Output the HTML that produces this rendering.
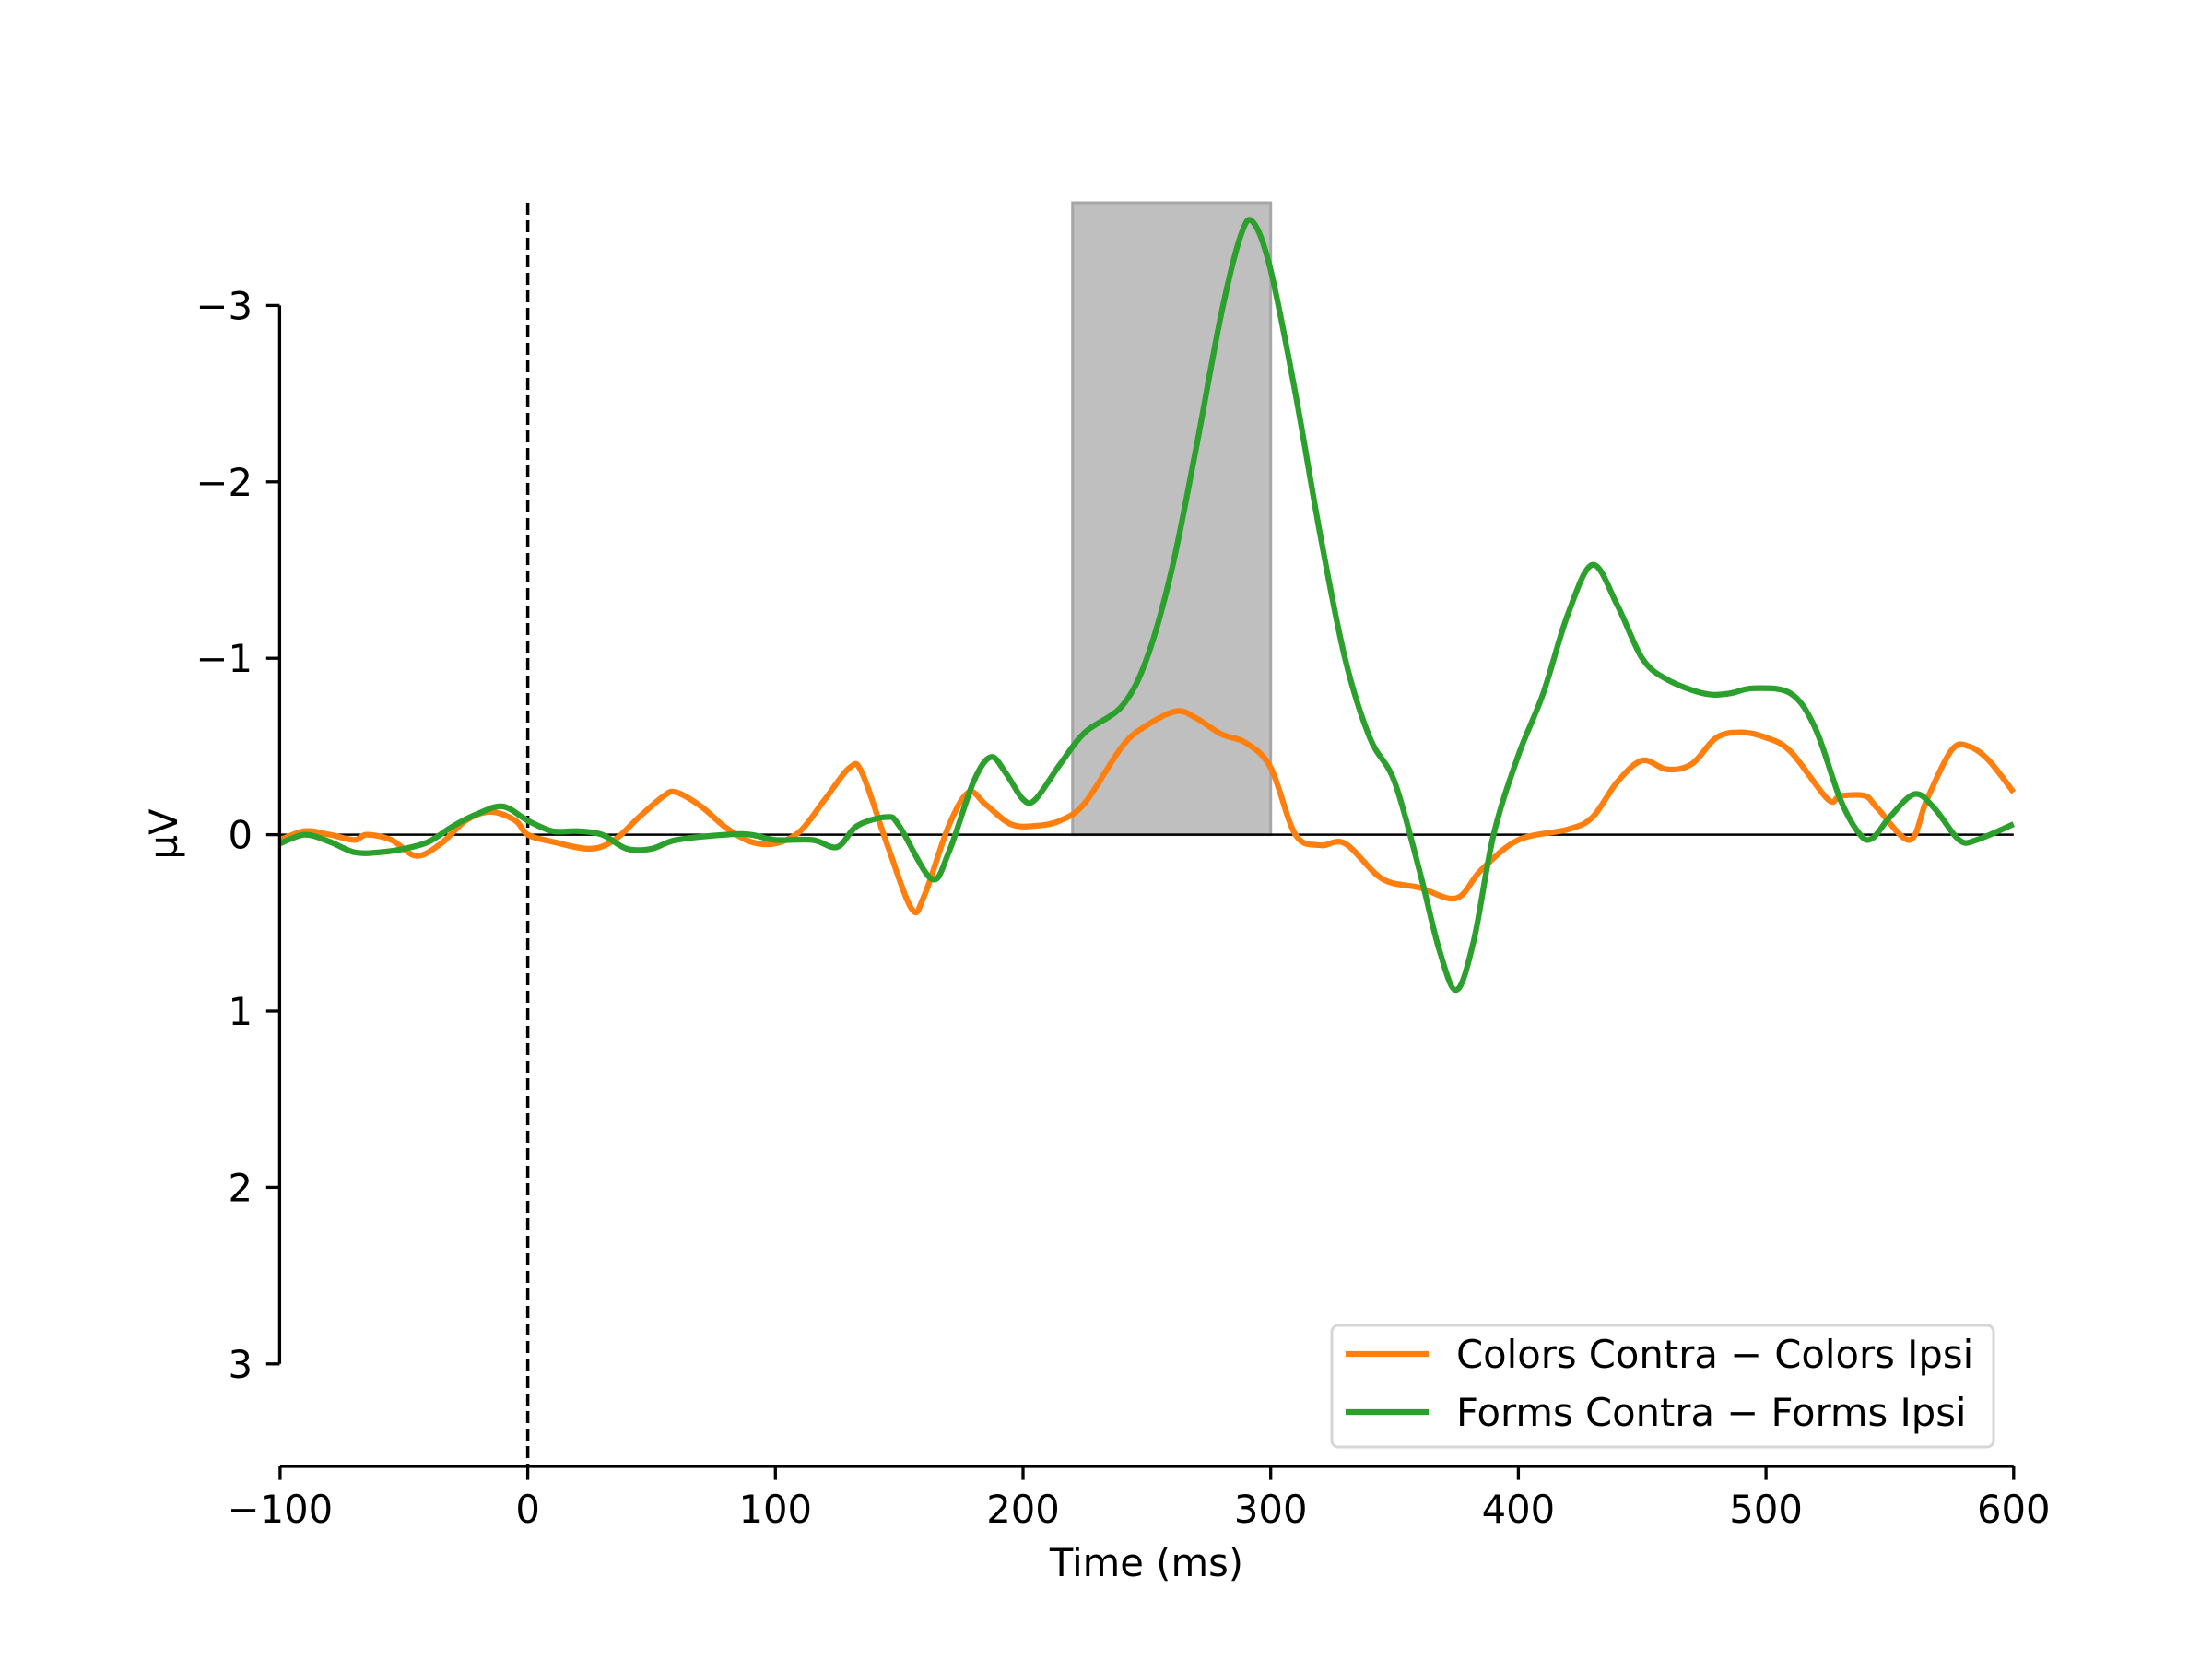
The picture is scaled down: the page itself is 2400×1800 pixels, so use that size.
<!DOCTYPE html>
<html><head><meta charset="utf-8"><style>
html,body{margin:0;padding:0;background:#fff;}
svg{display:block;font-family:"DejaVu Sans","Liberation Sans",sans-serif;}
</style></head><body>
<svg id="chart" width="2400" height="1800" viewBox="0 0 2400 1800" xmlns="http://www.w3.org/2000/svg">
<rect width="2400" height="1800" fill="#fff"/>
<g id="plot"></g>
</svg>
<script>
const xTicks = [-100, 0, 100, 200, 300, 400, 500, 600];
const yTicks = [-3, -2, -1, 0, 1, 2, 3];
const xTickLabels = ["\u2212100", "0", "100", "200", "300", "400", "500", "600"];
const yTickLabels = ["\u22123", "\u22122", "\u22121", "0", "1", "2", "3"];
const shadeWindow = [220, 300];
const colorsTimes = [-100,-90,-80,-70,-65,-55,-45,-35,-25,-15,-5,0,10,25,35,45,55,60,70,80,90,100,110,120,130,135,145,155,160,170,178,185,195,205,215,225,240,250,262,270,280,290,300,310,320,330,345,360,375,385,400,420,430,440,450,460,470,480,490,500,510,525,530,540,545,558,565,575,582,590,600];
const colorsValues = [0.03,-0.02,0.0,0.03,0.0,0.03,0.12,0.05,-0.08,-0.13,-0.08,0.0,0.04,0.08,0.03,-0.1,-0.22,-0.24,-0.16,-0.04,0.04,0.05,-0.02,-0.2,-0.38,-0.35,0.05,0.42,0.35,-0.05,-0.24,-0.17,-0.06,-0.05,-0.08,-0.18,-0.5,-0.62,-0.7,-0.66,-0.57,-0.52,-0.38,0.0,0.06,0.05,0.25,0.3,0.36,0.2,0.03,-0.03,-0.1,-0.3,-0.42,-0.37,-0.4,-0.55,-0.58,-0.55,-0.47,-0.2,-0.22,-0.22,-0.15,0.03,-0.2,-0.48,-0.5,-0.42,-0.24];
const formsTimes = [-100,-90,-80,-70,-60,-50,-40,-30,-20,-10,0,10,20,30,40,50,60,80,90,100,115,125,133,145,150,163,170,180,187,193,200,205,215,225,240,250,260,270,280,288,293,300,310,320,330,340,350,360,368,375,382,390,400,410,420,430,440,450,460,475,485,495,510,520,530,538,543,550,560,568,578,585,600];
const formsValues = [0.05,0.0,0.04,0.1,0.1,0.08,0.04,-0.05,-0.12,-0.16,-0.08,-0.02,-0.02,0.0,0.08,0.08,0.03,0.0,0.0,0.03,0.03,0.07,-0.05,-0.1,-0.05,0.25,0.1,-0.3,-0.44,-0.35,-0.2,-0.2,-0.4,-0.58,-0.73,-1.0,-1.5,-2.2,-2.95,-3.4,-3.47,-3.2,-2.5,-1.7,-1.0,-0.55,-0.3,0.2,0.65,0.88,0.6,0.0,-0.45,-0.8,-1.25,-1.53,-1.3,-1.0,-0.88,-0.8,-0.8,-0.83,-0.8,-0.6,-0.2,0.0,0.02,-0.1,-0.23,-0.15,0.03,0.03,-0.06];
const seriesLabels = ["Colors Contra \u2212 Colors Ipsi", "Forms Contra \u2212 Forms Ipsi"];

const NS = "http://www.w3.org/2000/svg";
const plot = document.getElementById('plot');
function X(t){ return 572.6 + 2.687 * t; }
function Y(v){ return 905.6 + 191.4 * v; }
function mk(tag, attrs, parent){ const e=document.createElementNS(NS,tag); for(const k in attrs) e.setAttribute(k,attrs[k]); (parent||plot).appendChild(e); return e; }
const yTop = 220, xAxisY = 1591;

// shading
const sh = mk('rect',{x:X(shadeWindow[0]),y:yTop,width:X(shadeWindow[1])-X(shadeWindow[0]),height:Y(0)-yTop,fill:'#bfbfbf',stroke:'#a6a6a6','stroke-width':3});



// zero line
const zl = mk('line',{x1:X(-100),x2:X(600),y1:Y(0),y2:Y(0),stroke:'#000','stroke-width':2.5});


// onset line
const ol = mk('line',{x1:X(0),x2:X(0),y1:yTop,y2:xAxisY,stroke:'#000','stroke-width':3.5,'stroke-dasharray':'13 6'});



function pathFor(ts, vs){
  const p = ts.map((t,i)=>[X(t),Y(vs[i])]);
  let d = 'M'+p[0][0]+','+p[0][1];
  for(let i=0;i<p.length-1;i++){
    const p0=p[Math.max(0,i-1)], p1=p[i], p2=p[i+1], p3=p[Math.min(p.length-1,i+2)];
    const c1x=p1[0]+(p2[0]-p0[0])/6, c1y=p1[1]+(p2[1]-p0[1])/6;
    const c2x=p2[0]-(p3[0]-p1[0])/6, c2y=p2[1]-(p3[1]-p1[1])/6;
    d+=' C'+c1x+','+c1y+' '+c2x+','+c2y+' '+p2[0]+','+p2[1];
  }
  return d;
}
const l1 = mk('path',{d:pathFor(colorsTimes,colorsValues),fill:'none',stroke:'#ff7f0e','stroke-width':6.25,'stroke-linejoin':'round'});


const l2 = mk('path',{d:pathFor(formsTimes,formsValues),fill:'none',stroke:'#2ca02c','stroke-width':6.25,'stroke-linejoin':'round'});



// axes
const ys = mk('line',{x1:303.4,x2:303.4,y1:Y(-3),y2:Y(3),stroke:'#000','stroke-width':3.3});


const xs = mk('line',{x1:X(-100),x2:X(600),y1:xAxisY,y2:xAxisY,stroke:'#000','stroke-width':3.3});


xTicks.forEach((t,i)=>{
  const tk = mk('line',{x1:X(t),x2:X(t),y1:xAxisY,y2:xAxisY+14.6,stroke:'#000','stroke-width':3.3});
  
  
  const tx = mk('text',{x:X(t),y:1652,'text-anchor':'middle','font-size':41.7,fill:'#000'});
  tx.textContent = xTickLabels[i];
  
  
});
yTicks.forEach((v,i)=>{
  const tk = mk('line',{x1:303.4-14.6,x2:303.4,y1:Y(v),y2:Y(v),stroke:'#000','stroke-width':3.3});
  
  
  const tx = mk('text',{x:274,y:Y(v)+15,'text-anchor':'end','font-size':41.7,fill:'#000'});
  tx.textContent = yTickLabels[i];
  
  
});
const xt = mk('text',{x:1244,y:1710,'text-anchor':'middle','font-size':41.7,fill:'#000'});
xt.textContent='Time (ms)';


const yt = mk('text',{x:192,y:905,'text-anchor':'middle','font-size':41.7,fill:'#000',transform:'rotate(-90 192 905)'});
yt.textContent='\u00b5V';



// legend
const lg = mk('g',{});


const lb = mk('rect',{x:1445,y:1438,width:718,height:132,rx:7,fill:'#fff','fill-opacity':0.8,stroke:'#d6d6d6','stroke-width':3},lg);


const cols=['#ff7f0e','#2ca02c'];
seriesLabels.forEach((s,i)=>{
  const yy = 1469 + i*63;
  const h = mk('line',{x1:1460,x2:1550,y1:yy,y2:yy,stroke:cols[i],'stroke-width':6.25},lg);
  
  
  const t = mk('text',{x:1580,y:yy+15,'font-size':41.7,fill:'#000'},lg);
  t.textContent = s;
  
  
});
</script>
</body></html>
